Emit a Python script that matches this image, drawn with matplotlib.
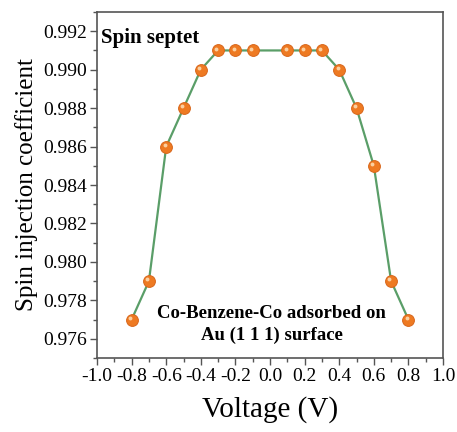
import numpy as np
import matplotlib
matplotlib.use("Agg")
import matplotlib.pyplot as plt
import matplotlib.transforms as mtransforms
from matplotlib.ticker import MultipleLocator, FormatStrFormatter

voltage = [-0.8, -0.7, -0.6, -0.5, -0.4, -0.3, -0.2, -0.1,
           0.1, 0.2, 0.3, 0.4, 0.5, 0.6, 0.7, 0.8]
coeff = [0.977, 0.979, 0.986, 0.988, 0.990, 0.991, 0.991, 0.991,
         0.991, 0.991, 0.991, 0.990, 0.988, 0.985, 0.979, 0.977]

plt.rcParams["font.family"] = ["Liberation Serif", "DejaVu Serif"]
plt.rcParams["axes.unicode_minus"] = False

fig = plt.figure(figsize=(4.57, 4.32), dpi=100)
ax = fig.add_axes([0.2123, 0.1713, 0.7571, 0.8009])

ax.plot(voltage, coeff, color="#5a9e68", lw=1.6, zorder=2)
ax.plot(voltage, coeff, ls="none", marker="o", ms=8.5, mfc="#ee7a22",
        mec="#d8661a", mew=0.7, zorder=3)
# small highlight on each ball
hl = mtransforms.offset_copy(ax.transData, fig=fig, x=-1.2, y=1.2, units="points")
ax.plot(voltage, coeff, ls="none", marker="o", ms=2.8, mfc="#fbd0a0",
        mec="none", transform=hl, zorder=4)

ax.set_xlim(-1.0, 1.0)
ax.set_ylim(0.975, 0.993)
ax.xaxis.set_major_locator(MultipleLocator(0.2))
ax.xaxis.set_minor_locator(MultipleLocator(0.1))
ax.yaxis.set_major_locator(MultipleLocator(0.002))
ax.yaxis.set_minor_locator(MultipleLocator(0.001))
ax.xaxis.set_major_formatter(FormatStrFormatter("%.1f"))
ax.yaxis.set_major_formatter(FormatStrFormatter("%.3f"))
ax.tick_params(which="major", direction="out", length=5, width=1, color="#555555",
               labelsize=14, pad=2)
ax.tick_params(which="minor", direction="out", length=3, width=1, color="#555555")
for lbl in ax.get_xticklabels() + ax.get_yticklabels():
    lbl.set_fontfamily("Liberation Serif")
for s in ax.spines.values():
    s.set_color("#555555")
    s.set_linewidth(1.2)

ax.set_xlabel("Voltage (V)", fontsize=21, labelpad=8)
ax.set_ylabel("Spin injection coefficient", fontsize=18, labelpad=4)

ax.text(0.012, 0.955, "Spin septet", transform=ax.transAxes, fontsize=15,
        fontweight="bold", ha="left", va="top")
ax.text(0.505, 0.152, "Co-Benzene-Co adsorbed on\nAu (1 1 1) surface",
        transform=ax.transAxes, fontsize=13.5, fontweight="bold",
        ha="center", va="top", linespacing=1.35)

fig.savefig("out.png", dpi=100)
